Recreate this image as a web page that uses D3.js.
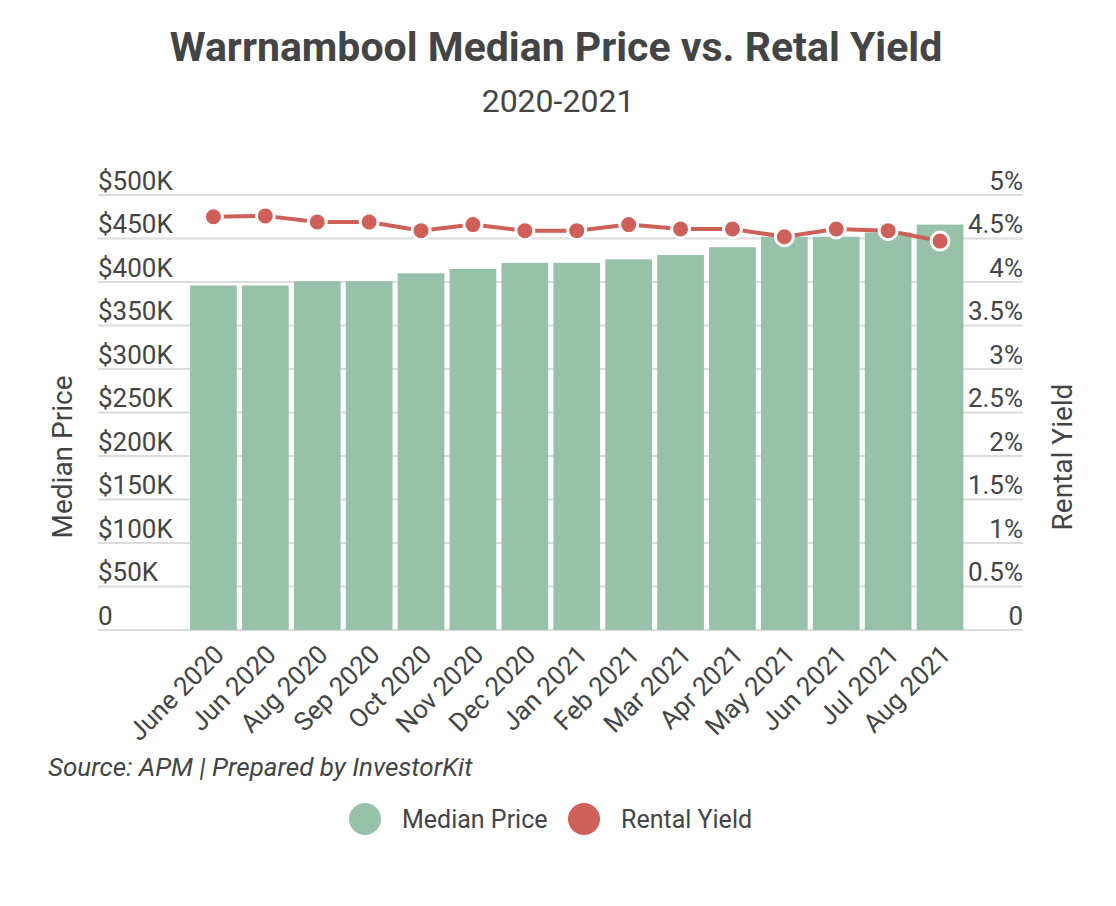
<!DOCTYPE html>
<html>
<head>
<meta charset="utf-8">
<script src="https://cdn.jsdelivr.net/npm/d3@7"></script>
<style>
  body { margin: 0; background: #fff; }
  svg { display: block; font-family: Roboto, sans-serif; }
</style>
</head>
<body>
<svg></svg>
<script>
let months = ['June 2020', 'Jun 2020', 'Aug 2020', 'Sep 2020', 'Oct 2020', 'Nov 2020', 'Dec 2020',
              'Jan 2021', 'Feb 2021', 'Mar 2021', 'Apr 2021', 'May 2021', 'Jun 2021', 'Jul 2021', 'Aug 2021']
let medianPrice = [396000, 396000, 401000, 401000, 410000, 415000, 422000, 422000,
                   426000, 431000, 440000, 452000, 452000, 457000, 466000]
let rentalYield = [4.75, 4.76, 4.69, 4.69, 4.59, 4.66, 4.59, 4.59,
                   4.66, 4.61, 4.61, 4.52, 4.61, 4.59, 4.47]
let priceTicks = [0, 50000, 100000, 150000, 200000, 250000, 300000, 350000, 400000, 450000, 500000]
let yieldTicks = [0, 0.5, 1, 1.5, 2, 2.5, 3, 3.5, 4, 4.5, 5]

const width = 1116
const height = 906
const gridLeft = 98
const gridRight = 1023
const plotTop = 195
const plotBottom = 630

const green = '#97c1a9'
const red = '#cf5f59'
const textColor = '#444'

const svg = d3.select('svg')
    .attr('width', width)
    .attr('height', height)

// scales
let xScale = d3.scaleBand()
    .domain(months)
    .range([187.5, 966])
    .paddingInner(0.1)
    .paddingOuter(0.05)

let priceScale = d3.scaleLinear()
    .domain([0, 500000])
    .range([plotBottom, plotTop])

let yieldScale = d3.scaleLinear()
    .domain([0, 5])
    .range([plotBottom, plotTop])

// title
svg.append('text')
    .attr('x', 556).attr('y', 61)
    .attr('text-anchor', 'middle')
    .attr('font-size', 41).attr('font-weight', 'bold')
    .attr('fill', textColor)
    .text('Warrnambool Median Price vs. Retal Yield')

svg.append('text')
    .attr('x', 558).attr('y', 112)
    .attr('text-anchor', 'middle')
    .attr('font-size', 32)
    .attr('fill', textColor)
    .text('2020-2021')

// gridlines
svg.append('g')
    .selectAll('line')
    .data(priceTicks)
    .enter()
    .append('line')
    .attr('x1', gridLeft).attr('x2', gridRight)
    .attr('y1', d => priceScale(d)).attr('y2', d => priceScale(d))
    .attr('stroke', '#dcdcdc')
    .attr('stroke-width', 2)

// left axis (labels sit just above the gridlines)
let leftAxis = d3.axisLeft(priceScale)
    .tickValues(priceTicks)
    .tickSize(0)
    .tickFormat(d => d === 0 ? '0' : '$' + (d / 1000) + 'K')

svg.append('g')
    .attr('transform', 'translate(' + gridLeft + ', 0)')
    .call(leftAxis)
    .call(g => g.select('.domain').remove())
    .selectAll('text')
    .attr('x', 0)
    .attr('dy', -6)
    .attr('text-anchor', 'start')
    .attr('font-size', 26)
    .attr('font-family', 'Roboto, sans-serif')
    .attr('fill', textColor)

let rightAxis = d3.axisRight(yieldScale)
    .tickValues(yieldTicks)
    .tickSize(0)
    .tickFormat(d => d === 0 ? '0' : d + '%')

svg.append('g')
    .attr('transform', 'translate(' + gridRight + ', 0)')
    .call(rightAxis)
    .call(g => g.select('.domain').remove())
    .selectAll('text')
    .attr('x', 0)
    .attr('dy', -6)
    .attr('text-anchor', 'end')
    .attr('font-size', 26)
    .attr('font-family', 'Roboto, sans-serif')
    .attr('fill', textColor)

// axis titles
svg.append('text')
    .attr('transform', 'translate(72, 457) rotate(-90)')
    .attr('text-anchor', 'middle')
    .attr('font-size', 28)
    .attr('fill', textColor)
    .text('Median Price')

svg.append('text')
    .attr('transform', 'translate(1072, 457) rotate(-90)')
    .attr('text-anchor', 'middle')
    .attr('font-size', 28)
    .attr('fill', textColor)
    .text('Rental Yield')

// bars
svg.append('g')
    .selectAll('rect')
    .data(medianPrice)
    .enter()
    .append('rect')
    .attr('x', (d, i) => xScale(months[i]))
    .attr('width', xScale.bandwidth())
    .attr('y', d => priceScale(d))
    .attr('height', d => plotBottom - priceScale(d))
    .attr('fill', green)

// x axis labels
let xAxis = d3.axisBottom(xScale).tickSize(0)
svg.append('g')
    .attr('transform', 'translate(0, ' + plotBottom + ')')
    .call(xAxis)
    .call(g => g.select('.domain').remove())
    .selectAll('text')
    .attr('font-size', 26)
    .attr('font-family', 'Roboto, sans-serif')
    .attr('fill', textColor)
    .attr('text-anchor', 'end')
    .attr('dy', 0)
    .attr('transform', 'translate(10, 24) rotate(-45)')

// rental yield line
let line = d3.line()
    .x((d, i) => xScale(months[i]) + xScale.bandwidth() / 2)
    .y(d => yieldScale(d))

svg.append('path')
    .datum(rentalYield)
    .attr('d', line)
    .attr('fill', 'none')
    .attr('stroke', red)
    .attr('stroke-width', 4)

svg.append('g')
    .selectAll('circle')
    .data(rentalYield)
    .enter()
    .append('circle')
    .attr('cx', (d, i) => xScale(months[i]) + xScale.bandwidth() / 2)
    .attr('cy', d => yieldScale(d))
    .attr('r', 9)
    .attr('fill', red)
    .attr('stroke', '#fff')
    .attr('stroke-width', 3)

// source
svg.append('text')
    .attr('x', 48).attr('y', 776)
    .attr('font-size', 26)
    .attr('font-style', 'italic')
    .attr('fill', textColor)
    .text('Source: APM | Prepared by InvestorKit')

// legend
let legend = svg.append('g')
let legendItems = [['Median Price', green, 365], ['Rental Yield', red, 584]]
legendItems.forEach(item => {
    legend.append('circle')
        .attr('cx', item[2]).attr('cy', 819).attr('r', 16)
        .attr('fill', item[1])
    legend.append('text')
        .attr('x', item[2] + 37).attr('y', 828)
        .attr('font-size', 25)
        .attr('fill', textColor)
        .text(item[0])
})
</script>
</body>
</html>
